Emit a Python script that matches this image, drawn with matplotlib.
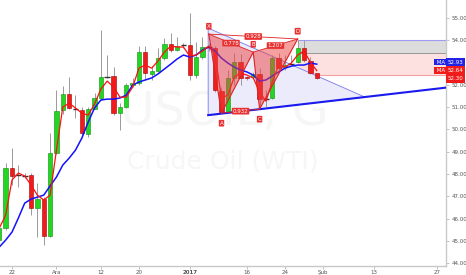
import numpy as np
import matplotlib.pyplot as plt
from matplotlib.patches import Polygon, Rectangle

# bar index: weekday counter, 0 = 22 Nov 2016
idx = np.arange(-2, 49)

opens = [45.03, 45.57, 48.26, 47.95, 47.93, 47.95, 46.47, 46.87, 45.21, 48.94,
         50.87, 51.59, 50.91, 50.87, 49.80, 50.91, 51.41, 52.35, 52.40, 50.73,
         51.00, 52.00, 52.08, 53.47, 52.49, 52.62, 53.20, 53.83, 53.56, 53.79,
         53.79, 52.44, 53.25, 53.70, 53.65, 51.72, 50.78, 52.31, 53.02, 52.35,
         52.35, 52.49, 51.36, 51.41, 53.20, 52.80, 52.93, 53.02, 53.65, 53.07,
         52.53]
closes = [45.57, 48.26, 47.91, 47.95, 47.93, 46.47, 46.87, 45.21, 48.94, 50.82,
          51.59, 50.96, 50.91, 49.84, 50.91, 51.41, 52.35, 52.35, 50.73, 51.00,
          51.99, 52.10, 53.47, 52.53, 52.62, 53.20, 53.83, 53.56, 53.74, 53.79,
          52.44, 53.25, 53.70, 53.70, 51.77, 50.78, 52.31, 53.02, 52.31, 52.31,
          52.49, 51.36, 51.36, 53.20, 52.75, 52.89, 52.93, 53.65, 53.11, 52.53,
          52.30]
highs = [45.70, 48.49, 49.16, 48.40, 48.05, 48.04, 47.60, 46.96, 49.84, 51.77,
         51.95, 52.35, 51.54, 51.00, 51.00, 51.63, 54.46, 53.34, 52.80, 51.20,
         52.10, 52.30, 53.74, 53.74, 52.84, 53.65, 54.10, 54.33, 54.15, 53.90,
         55.22, 53.92, 54.15, 53.90, 53.75, 51.90, 52.67, 53.43, 53.38, 52.40,
         52.60, 52.75, 51.77, 53.34, 53.43, 53.34, 53.34, 54.01, 54.01, 53.25,
         52.55]
lows = [44.90, 45.50, 47.50, 47.41, 47.80, 46.15, 45.17, 44.81, 45.17, 48.90,
        50.70, 50.90, 50.50, 49.75, 49.66, 50.90, 51.32, 52.30, 50.64, 49.97,
        50.95, 51.90, 52.00, 52.22, 52.20, 52.60, 53.11, 53.47, 53.50, 53.65,
        52.22, 52.31, 53.16, 53.50, 51.68, 50.75, 50.75, 51.99, 52.00, 52.20,
        52.30, 50.96, 51.00, 51.36, 52.58, 52.67, 52.90, 53.00, 53.02, 52.49,
        52.25]

ma_fast = [45.57, 46.15, 47.73, 48.04, 47.91, 47.50, 47.05, 46.83, 47.05, 49.07,
           51.00, 51.18, 50.96, 50.73, 50.64, 51.14, 51.81, 52.17, 51.90, 51.45,
           51.45, 51.90, 52.75, 52.89, 52.75, 53.07, 53.47, 53.74, 53.70, 53.70,
           53.29, 53.34, 53.52, 53.74, 53.34, 51.41, 51.54, 52.35, 52.53, 52.44,
           52.31, 51.68, 51.27, 52.13, 52.89, 52.80, 52.98, 53.34, 53.52, 53.02,
           52.64]
ma_slow = [44.72, 45.03, 45.39, 46.02, 46.69, 46.87, 46.96, 47.05, 47.46, 47.86,
           48.40, 48.71, 49.07, 49.61, 50.33, 50.96, 51.32, 51.36, 51.36, 51.41,
           51.54, 51.99, 52.13, 52.22, 52.31, 52.49, 52.71, 52.93, 53.16, 53.34,
           53.25, 53.34, 53.56, 53.70, 53.52, 53.20, 52.98, 52.80, 52.67, 52.58,
           52.44, 52.17, 52.22, 52.40, 52.58, 52.75, 52.84, 52.89, 52.89, 52.98,
           52.93]

# XABCD pattern points (bar index, price)
pat_names = ['X', 'A', 'B', 'C', 'D']
pat_x = [31, 33, 38, 39, 45]
pat_y = [54.28, 50.73, 53.47, 50.91, 54.06]
ratio_xb, ratio_ac, ratio_bd, ratio_xd = '0.778', '0.932', '1.207', '0.928'

# triangle + trend line drawn under the pattern
tri_x = [30.9, 30.9, 55.6]
tri_y = [54.55, 50.64, 51.45]
trend_x = [30.9, 70.0]
trend_y = [50.64, 51.93]

# position boxes
box_left = 45
box_top, box_mid, box_bot = 54.01, 53.43, 52.44

tick_pos = [0, 7, 14, 20, 28, 37, 43, 49, 57, 67]
tick_lab = ['22', 'Ara', '12', '20', '2017', '16', '24', 'Şub', '13', '27']
yticks = [44, 45, 46, 47, 48, 49, 50, 51, 52, 54, 55]

UP, DN = '#22d622', '#f01c1c'

fig = plt.figure(figsize=(4.66, 2.75), dpi=100)
ax = fig.add_axes([0, 0.0345, 0.958, 0.9655])
ax.set_xlim(-1.89, 68.43)
ax.set_ylim(43.89, 55.81)

# watermark
ax.text(0.502, 0.575, 'USOIL, G', transform=ax.transAxes, ha='center', va='center',
        fontsize=34, color='#f6f6f6', zorder=0)
ax.text(0.50, 0.39, 'Crude Oil (WTI)', transform=ax.transAxes, ha='center', va='center',
        fontsize=18, color='#f6f6f6', zorder=0)

# position boxes
ax.add_patch(Rectangle((box_left, box_mid), 100, box_top - box_mid, fc='#dcdcdc', ec='none', zorder=1))
ax.add_patch(Rectangle((box_left, box_bot), 100, box_mid - box_bot, fc='#fde0e0', ec='none', zorder=1))
ax.plot([box_left, 100], [box_top, box_top], color='#9c9cf5', lw=0.8, zorder=1.1)
ax.plot([box_left, 100], [box_mid, box_mid], color='#8a8a8a', lw=0.6, zorder=1.1)
ax.plot([box_left, 100], [box_bot, box_bot], color='#f4a0a0', lw=0.8, zorder=1.1)

# lavender triangle and trend line
ax.add_patch(Polygon(list(zip(tri_x, tri_y)), closed=True, fc='#ebebfb', ec='#7878f0', lw=0.6, zorder=1.2))
ax.plot(trend_x, trend_y, color='#1a1aee', lw=1.5, zorder=4)

# candles
for i, o, h, l, c in zip(idx, opens, highs, lows, closes):
    ax.vlines(i, l, h, color='#9a9a9a', lw=0.7, zorder=2)
    if abs(c - o) < 0.02:
        ax.hlines(o, i - 0.45, i + 0.45, color='#333333', lw=1.0, zorder=2.2)
    else:
        col = UP if c > o else DN
        edge = '#0e8e0e' if c > o else '#a00000'
        ax.bar(i, abs(c - o), bottom=min(o, c), width=0.68, color=col, edgecolor=edge,
               lw=0.4, zorder=2.1)

ax.plot(idx, ma_slow, color='#1212ff', lw=1.1, zorder=3)
ax.plot(idx, ma_fast, color='#ff1010', lw=0.9, zorder=3.1)

# harmonic pattern
X, A, B, C, D = list(zip(pat_x, pat_y))
for tri in ([X, A, B], [B, C, D]):
    ax.add_patch(Polygon(tri, closed=True, fc='#ee4040', alpha=0.5, ec='none', zorder=5))
ax.plot(pat_x, pat_y, color='#e02020', lw=0.8, zorder=5.1)
for p, q in ((X, B), (B, D), (X, D), (A, C)):
    ax.plot([p[0], q[0]], [p[1], q[1]], color='#e02020', lw=0.6, zorder=5.1)

lab_kw = dict(ha='center', va='center', fontsize=4, color='white', zorder=6,
              bbox=dict(boxstyle='round,pad=0.15', fc='#e83030', ec='none'))
for (p, q), r in zip(((X, B), (A, C), (B, D), (X, D)), (ratio_xb, ratio_ac, ratio_bd, ratio_xd)):
    ax.text((p[0] + q[0]) / 2, (p[1] + q[1]) / 2, r, **lab_kw)
for n, px, py in zip(pat_names, pat_x, pat_y):
    off = 0.35 if n in 'XBD' else -0.45
    ax.text(px, py + off, n, **lab_kw)

# right-side value labels
def price_tag(y, txt, tag, col):
    if tag:
        ax.text(1.0, y, ' ' + tag + ' ', transform=ax.get_yaxis_transform(), ha='right', va='center',
                fontsize=4, color='white', zorder=7, clip_on=False,
                bbox=dict(boxstyle='square,pad=0.15', fc=col, ec='none'))
    ax.text(1.003, y, txt, transform=ax.get_yaxis_transform(), ha='left', va='center',
            fontsize=4, color='white', zorder=7, clip_on=False,
            bbox=dict(boxstyle='square,pad=0.3', fc=col, ec='none'))

price_tag(53.02, '52.93', 'MA', '#2323e6')
price_tag(52.64, '52.64', 'MA', '#f01c1c')
price_tag(52.28, '52.30', '', '#f01c1c')

# axes
for s in ('top', 'left'):
    ax.spines[s].set_visible(False)
for s in ('right', 'bottom'):
    ax.spines[s].set_color('#c8c8c8')
    ax.spines[s].set_linewidth(1.0)
ax.yaxis.tick_right()
ax.set_yticks(yticks)
ax.set_yticklabels([f'{v:.2f}' for v in yticks])
ax.set_xticks(tick_pos)
ax.set_xticklabels(tick_lab)
for t in ax.get_xticklabels():
    if t.get_text() == '2017':
        t.set_fontweight('bold')
ax.tick_params(axis='both', labelsize=4, colors='#555555', length=2, width=0.5, pad=1.5)
ax.tick_params(axis='both', color='#aaaaaa')

fig.savefig('out.png', dpi=100)
